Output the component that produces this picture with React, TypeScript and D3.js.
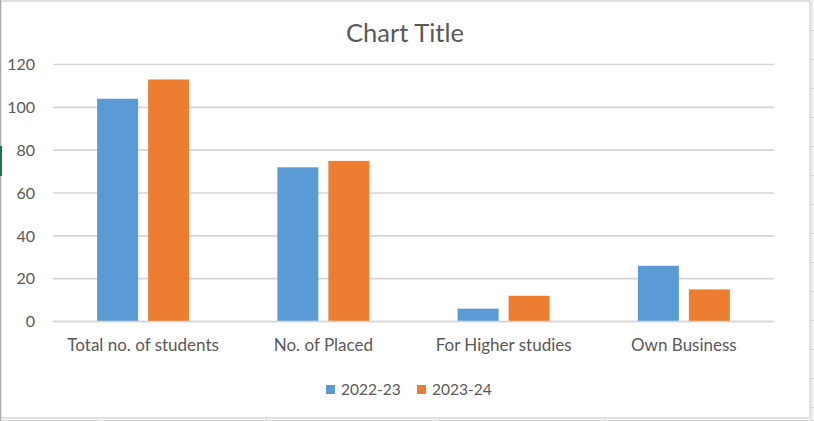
import React from "react";
import * as d3 from "d3";

const categories = ["Total no. of students", "No. of Placed", "For Higher studies", "Own Business"];
const seriesNames = ["2022-23", "2023-24"];
const values2022 = [104, 72, 6, 26];
const values2023 = [113, 75, 12, 15];
const yTicks = [0, 20, 40, 60, 80, 100, 120];
const colors = ["#5B9BD5", "#ED7D31"];

const W = 814;
const H = 421;
const FONT = "Lato, 'Open Sans', sans-serif";
const TEXT = "#595959";

export default function App() {
  const x = d3.scaleBand<string>().domain(categories).range([53, 774]).paddingInner(0);
  const y = d3.scaleLinear().domain([0, 120]).range([321.5, 64.5]);
  const inner = d3.scaleBand<string>().domain(seriesNames).range([-46, 46]).paddingInner(0.196);
  const series = [values2022, values2023];

  const rightTicks = d3.range(30, 410, 29);
  const bottomTicks = [97, 266, 439, 604];

  return (
    <div style={{ position: "fixed", left: 0, top: 0, width: W, height: H, background: "#fff" }}>
      <svg width={W} height={H} style={{ display: "block" }}>
        <rect x={0} y={0} width={W} height={H} fill="#fff" />
        {/* sheet cell lines outside the chart */}
        <line x1={812} x2={812} y1={0} y2={H} stroke="#D4D4D4" strokeWidth={1} />
        {rightTicks.map((t) => (
          <line key={"rt" + t} x1={810} x2={814} y1={t + 0.5} y2={t + 0.5} stroke="#D4D4D4" />
        ))}
        <line x1={0} x2={814} y1={420.5} y2={420.5} stroke="#D4D4D4" />
        {bottomTicks.map((t) => (
          <line key={"bt" + t} x1={t + 0.5} x2={t + 0.5} y1={419} y2={421} stroke="#D4D4D4" />
        ))}
        {/* chart area border */}
        <rect x={1} y={1} width={809} height={417} fill="#fff" stroke="#D9D9D9" strokeWidth={1.5} />
        <line x1={0.5} x2={0.5} y1={0} y2={H} stroke="#ABABAB" strokeWidth={1} />
        <rect x={0} y={146} width={2} height={30} fill="#217346" />

        {/* title */}
        <text x={405} y={42} textAnchor="middle" fontFamily={FONT} fontSize={25.5} fill={TEXT}>
          Chart Title
        </text>

        {/* gridlines */}
        {yTicks.map((t) => (
          <line key={"g" + t} x1={53} x2={774} y1={y(t)} y2={y(t)} stroke="#D6D6D6" strokeWidth={1.7} />
        ))}
        {/* y tick labels */}
        {yTicks.map((t) => (
          <text
            key={"yl" + t}
            x={35}
            y={y(t)}
            dy="0.36em"
            textAnchor="end"
            fontFamily={FONT}
            fontSize={16}
            fill={TEXT}
          >
            {t}
          </text>
        ))}

        {/* bars */}
        {categories.map((c, i) => {
          const cx = (x(c) as number) + x.bandwidth() / 2;
          return (
            <g key={c}>
              {seriesNames.map((s, j) => (
                <rect
                  key={s}
                  x={cx + (inner(s) as number)}
                  y={y(series[j][i])}
                  width={inner.bandwidth()}
                  height={y(0) - y(series[j][i])}
                  fill={colors[j]}
                />
              ))}
            </g>
          );
        })}
        {/* redraw baseline over bars */}
        <line x1={53} x2={774} y1={y(0)} y2={y(0)} stroke="#D6D6D6" strokeWidth={1.7} />

        {/* category labels */}
        {categories.map((c) => (
          <text
            key={"cl" + c}
            x={(x(c) as number) + x.bandwidth() / 2}
            y={351}
            textAnchor="middle"
            fontFamily={FONT}
            fontSize={17}
            fill={TEXT}
          >
            {c}
          </text>
        ))}

        {/* legend */}
        {seriesNames.map((s, j) => {
          const lx = [326, 417][j];
          return (
            <g key={"lg" + s}>
              <rect x={lx} y={385} width={9} height={9} fill={colors[j]} />
              <text x={lx + 15} y={395} fontFamily={FONT} fontSize={15.5} fill={TEXT}>
                {s}
              </text>
            </g>
          );
        })}
      </svg>
    </div>
  );
}
